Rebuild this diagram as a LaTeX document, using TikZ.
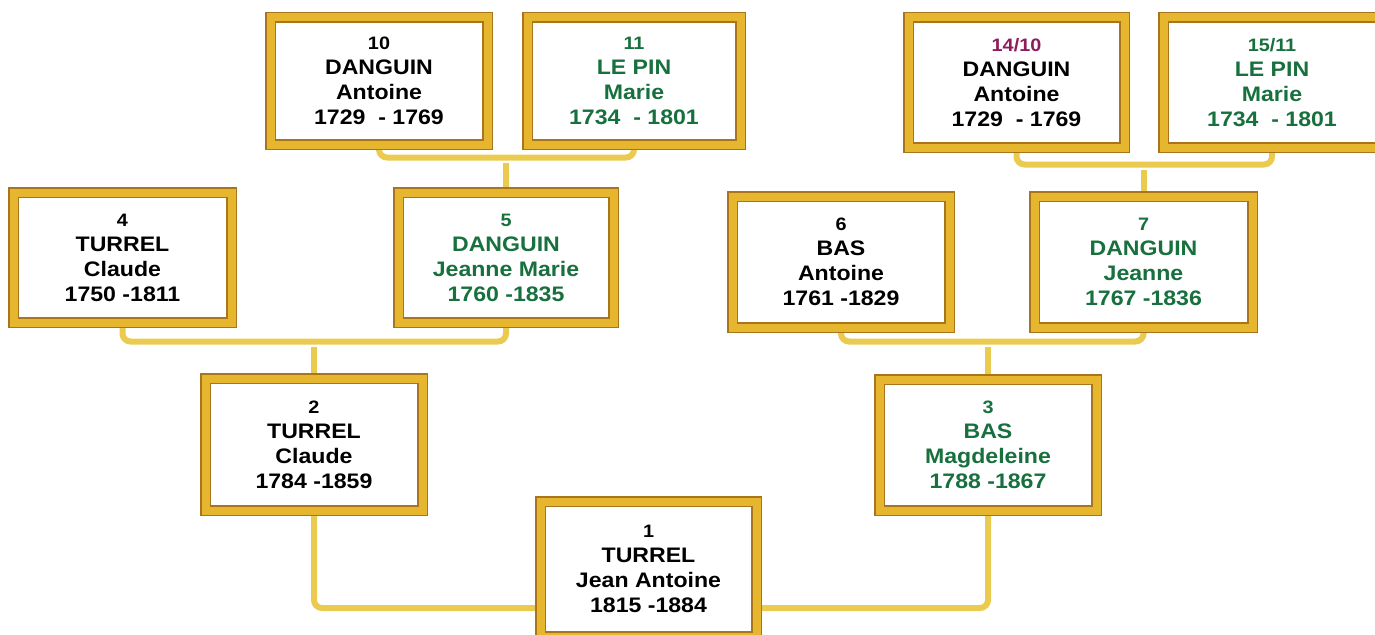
\documentclass[tikz,border=0pt]{standalone}
\usepackage{fontspec}
\setmainfont[FakeStretch=1.1]{Liberation Sans}
\usetikzlibrary{backgrounds}
\definecolor{framegold}{HTML}{E6B62E}
\definecolor{framedark}{HTML}{A8741C}
\definecolor{connyellow}{HTML}{EBCB4F}
\definecolor{fgreen}{HTML}{17703D}
\definecolor{fmagenta}{HTML}{8E1B5B}
\newcommand{\numline}[1]{{\fontsize{18}{25}\selectfont #1}}
\tikzset{
  frame/.style={draw=framedark, line width=1.5pt, double=framegold, double distance=8pt,
    fill=white, rectangle, outer sep=0pt, inner sep=0pt, align=center,
    font=\bfseries\fontsize{21}{25}\selectfont, text=black},
  femme/.style={frame, text=fgreen},
  conn/.style={draw=connyellow, line width=6pt, rounded corners=8pt}
}
\begin{document}
\begin{tikzpicture}[x=1pt,y=-1pt]
\useasboundingbox (0,0) rectangle (1375,634);
% generation 4
\node[frame, minimum width=217pt, minimum height=127pt] (n10) at (379,81) {\numline{10}\\DANGUIN\\Antoine\\1729\ \ - 1769};
\node[femme, minimum width=213pt, minimum height=127pt] (n11) at (634,81) {\numline{11}\\LE PIN\\Marie\\1734\ \ - 1801};
\node[frame, minimum width=216pt, minimum height=130pt] (n14) at (1016.5,82.5) {\numline{\textcolor{fmagenta}{14/10}}\\DANGUIN\\Antoine\\1729\ \ - 1769};
\node[femme, minimum width=217pt, minimum height=130pt] (n15) at (1272,82.5) {\numline{15/11}\\LE PIN\\Marie\\1734\ \ - 1801};
% generation 3
\node[frame, minimum width=218pt, minimum height=130pt] (n4) at (122.5,257.5) {\numline{4}\\TURREL\\Claude\\1750 -1811};
\node[femme, minimum width=215pt, minimum height=130pt] (n5) at (506,257.5) {\numline{5}\\DANGUIN\\Jeanne Marie\\1760 -1835};
\node[frame, minimum width=217pt, minimum height=131pt] (n6) at (841,262) {\numline{6}\\BAS\\Antoine\\1761 -1829};
\node[femme, minimum width=218pt, minimum height=131pt] (n7) at (1143.5,262) {\numline{7}\\DANGUIN\\Jeanne\\1767 -1836};
% generation 2
\node[frame, minimum width=217pt, minimum height=132pt] (n2) at (314,444.5) {\numline{2}\\TURREL\\Claude\\1784 -1859};
\node[femme, minimum width=217pt, minimum height=131pt] (n3) at (988,445) {\numline{3}\\BAS\\Magdeleine\\1788 -1867};
% generation 1
\node[frame, minimum width=216pt, minimum height=135pt] (n1) at (648.5,569) {\numline{1}\\TURREL\\Jean Antoine\\1815 -1884};
% connectors
\coordinate (j5) at (n5.north |- 0,163);
\coordinate (j7) at (n7.north |- 0,170);
\coordinate (j2) at (n2.north |- 0,347);
\coordinate (j3) at (n3.north |- 0,347);
\begin{pgfonlayer}{background}
\draw[conn] (n10.south) -- ++(0,13) -| (n11.south);
\draw[conn] (j5) -- (n5.north);
\draw[conn] (n14.south) -- ++(0,17) -| (n15.south);
\draw[conn] (j7) -- (n7.north);
\draw[conn] (n4.south) -- ++(0,19) -| (n5.south);
\draw[conn] (j2) -- (n2.north);
\draw[conn] (n6.south) -- ++(0,14) -| (n7.south);
\draw[conn] (j3) -- (n3.north);
\draw[conn] (n2.south) |- (n1.west |- 0,608);
\draw[conn] (n3.south) |- (n1.east |- 0,608);
\end{pgfonlayer}
\end{tikzpicture}
\end{document}
